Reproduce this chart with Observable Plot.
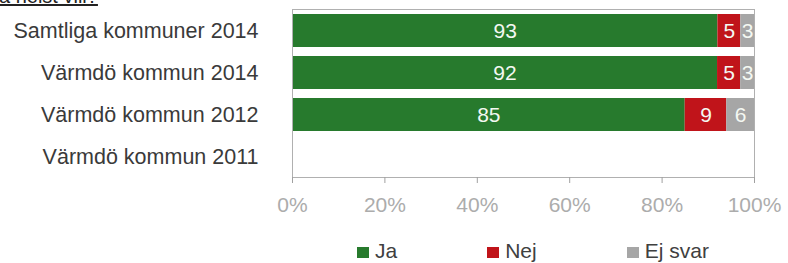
<!DOCTYPE html>
<html>
<head>
<meta charset="utf-8">
<script src="https://cdn.jsdelivr.net/npm/d3@7"></script>
<script src="https://cdn.jsdelivr.net/npm/@observablehq/plot@0.6"></script>
<style>
  html, body { margin: 0; padding: 0; background: #fff; }
  #wrap { position: relative; width: 788px; height: 263px; overflow: hidden; font-family: "Liberation Sans", Arial, sans-serif; }
  #title { position: absolute; left: -1px; top: -14px; font-size: 20px; line-height: 20px; color: #222; text-decoration: underline; white-space: nowrap; }
  #legend { position: absolute; left: 357px; top: 240px; display: flex; gap: 90px; font-size: 21px; color: #404040; line-height: 22px; }
  .item { display: flex; align-items: center; }
  .sw { width: 12px; height: 11px; margin-right: 6px; margin-top: 3px; }
</style>
</head>
<body>
<div id="wrap">
  <div id="chart"></div>
  <div id="title">a helst vill?</div>
  <div id="legend"></div>
</div>
<script>
const categories = ["Samtliga kommuner 2014", "Värmdö kommun 2014", "Värmdö kommun 2012", "Värmdö kommun 2011"];
const answers = ["Ja", "Nej", "Ej svar"];
const colors = ["#277a2d", "#c0141a", "#a6a6a6"];
const ja = [93, 92, 85, null];
const nej = [5, 5, 9, null];
const ejSvar = [3, 3, 6, null];
const xTicks = [0, 0.2, 0.4, 0.6, 0.8, 1];

const series = [ja, nej, ejSvar];
const rows = [];
categories.forEach((c, i) => {
  answers.forEach((a, j) => {
    const v = series[j][i];
    if (v != null) rows.push({category: c, answer: a, value: v});
  });
});

const stack = (o) => Plot.stackX({x: "value", y: "category", z: "answer", offset: "normalize", ...o});

const chart = Plot.plot({
  width: 788,
  height: 230,
  marginLeft: 292,
  marginRight: 34,
  marginTop: 9,
  marginBottom: 53,
  style: {fontFamily: "'Liberation Sans', Arial, sans-serif", background: "#fff"},
  x: {domain: [0, 1], axis: null, label: null},
  y: {domain: categories, paddingInner: 0.22, paddingOuter: 0.11, axis: null, label: null},
  color: {domain: answers, range: colors},
  marks: [
    Plot.barX(rows, stack({fill: "answer"})),
    Plot.textX(rows, stack({text: "value", fill: "#f4f8f2", fontSize: 21})),
    Plot.frame({stroke: "#b0b0b0"}),
    Plot.axisX({ticks: xTicks, tickFormat: d => Math.round(d * 100) + "%", tickSize: 6, tickPadding: 14, stroke: "#a0a0a0", fill: "#acacac", fontSize: 21, label: null}),
    Plot.axisY({tickSize: 0, tickPadding: 34, fill: "#3a3a3a", fontSize: 21.5, label: null})
  ]
});
document.getElementById("chart").appendChild(chart);

const legend = document.getElementById("legend");
answers.forEach((a, i) => {
  const it = document.createElement("div");
  it.className = "item";
  const sw = document.createElement("span");
  sw.className = "sw";
  sw.style.background = colors[i];
  const t = document.createElement("span");
  t.textContent = a;
  it.appendChild(sw);
  it.appendChild(t);
  legend.appendChild(it);
});
</script>
</body>
</html>
